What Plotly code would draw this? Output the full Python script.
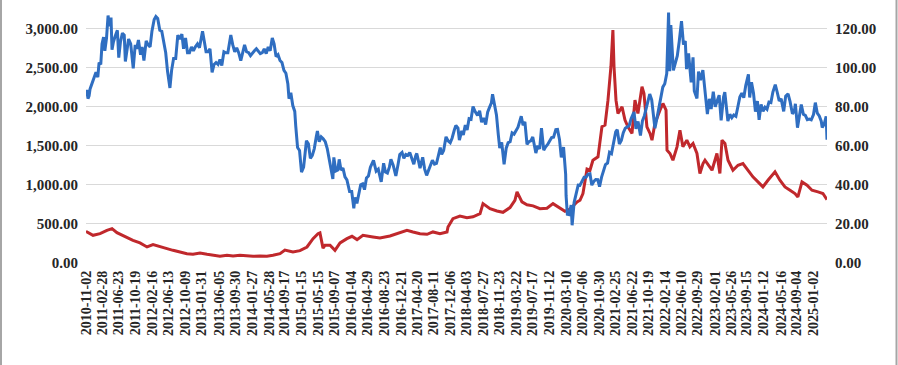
import plotly.graph_objects as go

# ---------------- data ----------------
tick_labels = [
    "2010-11-02", "2011-02-28", "2011-06-23", "2011-10-19", "2012-02-16", "2012-06-13",
    "2012-10-09", "2013-01-31", "2013-06-05", "2013-09-30", "2014-01-27", "2014-05-28",
    "2014-09-17", "2015-01-15", "2015-05-15", "2015-09-07", "2016-01-04", "2016-04-29",
    "2016-08-23", "2016-12-21", "2017-04-20", "2017-08-11", "2017-12-06", "2018-04-03",
    "2018-07-27", "2018-11-23", "2019-03-22", "2019-07-17", "2019-11-12", "2020-03-10",
    "2020-07-06", "2020-10-30", "2021-02-25", "2021-06-22", "2021-10-19", "2022-02-14",
    "2022-06-10", "2022-09-29", "2023-02-01", "2023-05-26", "2023-09-15", "2024-01-12",
    "2024-05-16", "2024-09-04", "2025-01-02",
]

left_ticks = [0, 500, 1000, 1500, 2000, 2500, 3000]
right_ticks = [0, 20, 40, 60, 80, 100, 120]

# red series (left axis)
red_dates = [
    "2010-11-02", "2010-11-09", "2010-12-22", "2011-02-10", "2011-03-31", "2011-05-06", "2011-06-10",
    "2011-07-16", "2011-08-21", "2011-10-02", "2011-11-21", "2012-01-10", "2012-02-22", "2012-04-11",
    "2012-05-31", "2012-07-13", "2012-09-01", "2012-10-20", "2012-12-02", "2013-01-21", "2013-03-12",
    "2013-04-23", "2013-06-12", "2013-08-01", "2013-09-13", "2013-11-01", "2013-12-21", "2014-02-02",
    "2014-03-24", "2014-05-12", "2014-06-24", "2014-08-13", "2014-09-17", "2014-11-13", "2015-01-02",
    "2015-02-21", "2015-04-05", "2015-05-10", "2015-05-24", "2015-06-15", "2015-06-29", "2015-08-04",
    "2015-09-08", "2015-10-14", "2015-12-02", "2016-01-07", "2016-02-12", "2016-03-25", "2016-06-04",
    "2016-07-24", "2016-10-03", "2016-12-13", "2017-02-01", "2017-03-16", "2017-05-05", "2017-06-24",
    "2017-08-05", "2017-09-24", "2017-11-13", "2017-11-20", "2017-12-25", "2018-02-13", "2018-04-04",
    "2018-05-17", "2018-07-06", "2018-07-27", "2018-09-15", "2018-11-03", "2018-12-16", "2019-02-04",
    "2019-03-11", "2019-03-26", "2019-04-30", "2019-06-05", "2019-07-18", "2019-09-05", "2019-10-25",
    "2019-12-07", "2020-01-26", "2020-03-01", "2020-04-06", "2020-05-26", "2020-06-16", "2020-07-07",
    "2020-08-05", "2020-08-26", "2020-09-16", "2020-10-22", "2020-11-19", "2020-12-11", "2021-01-01",
    "2021-01-22", "2021-02-05", "2021-02-13", "2021-02-27", "2021-03-13", "2021-04-11", "2021-05-02",
    "2021-05-23", "2021-06-21", "2021-07-12", "2021-08-02", "2021-08-31", "2021-09-14", "2021-10-05",
    "2021-10-27", "2021-11-10", "2021-12-01", "2022-01-06", "2022-01-27", "2022-02-18", "2022-02-25",
    "2022-03-18", "2022-04-08", "2022-05-07", "2022-05-28", "2022-06-18", "2022-07-16", "2022-08-07",
    "2022-08-29", "2022-09-26", "2022-10-17", "2022-11-08", "2022-11-22", "2023-01-11", "2023-02-15",
    "2023-03-08", "2023-03-23", "2023-04-13", "2023-05-05", "2023-06-09", "2023-07-15", "2023-08-19",
    "2023-09-24", "2023-10-29", "2023-12-04", "2024-01-08", "2024-02-13", "2024-04-03", "2024-05-08",
    "2024-06-13", "2024-07-19", "2024-08-23", "2024-09-13", "2024-10-12", "2024-11-17", "2024-12-22",
    "2025-02-03", "2025-03-10", "2025-04-08",
]
red_values = [
    390, 397, 354, 375, 418, 440, 388,
    354, 324, 290, 256, 205, 235, 205,
    183, 162, 141, 119, 111, 128, 111,
    98, 85, 98, 90, 98, 90, 85,
    90, 85, 98, 119, 165, 141, 158,
    205, 311, 375, 385, 190, 226, 226,
    162, 256, 311, 341, 299, 354, 333,
    320, 346, 388, 418, 397, 375, 367,
    397, 375, 397, 461, 567, 600, 580,
    590, 631, 759, 695, 665, 648, 708,
    802, 909, 781, 745, 730, 695, 700,
    759, 695, 660, 690, 781, 802, 887,
    1200, 1186, 1314, 1357, 1741, 1762, 2082,
    2509, 2978, 2509, 2082, 1911, 1997, 1826,
    1741, 1656, 2082, 1911, 2253, 2167, 1741,
    1656, 1570, 1784, 1954, 2039, 1954, 1442,
    1400, 1314, 1485, 1698, 1485, 1570, 1485,
    1528, 1400, 1144, 1271, 1314, 1186, 1400,
    1144, 1570, 1528, 1314, 1186, 1250, 1271,
    1186, 1101, 1037, 973, 1058, 1165, 1058,
    973, 930, 888, 845, 1037, 994, 930,
    909, 888, 811,
]

# blue series (right axis)
blue_dates = [
    "2010-11-02", "2010-11-09", "2010-11-16", "2010-11-24", "2010-12-01", "2010-12-15", "2010-12-29",
    "2011-01-12", "2011-01-25", "2011-02-03", "2011-02-15", "2011-02-24", "2011-03-07", "2011-03-16",
    "2011-03-28", "2011-04-08", "2011-04-18", "2011-04-29", "2011-05-06", "2011-05-16", "2011-05-31",
    "2011-06-13", "2011-06-23", "2011-07-05", "2011-07-19", "2011-08-01", "2011-08-09", "2011-08-22",
    "2011-09-01", "2011-09-16", "2011-10-04", "2011-10-18", "2011-10-28", "2011-11-10", "2011-11-25",
    "2011-12-06", "2011-12-19", "2012-01-04", "2012-01-18", "2012-02-01", "2012-02-14", "2012-03-01",
    "2012-03-13", "2012-03-26", "2012-04-10", "2012-04-24", "2012-05-08", "2012-05-22", "2012-06-04",
    "2012-06-21", "2012-07-03", "2012-07-17", "2012-08-01", "2012-08-16", "2012-08-31", "2012-09-14",
    "2012-09-26", "2012-10-10", "2012-10-24", "2012-11-07", "2012-11-21", "2012-12-05", "2012-12-19",
    "2013-01-03", "2013-01-17", "2013-01-31", "2013-02-08", "2013-02-20", "2013-03-05", "2013-03-19",
    "2013-04-02", "2013-04-17", "2013-05-01", "2013-05-15", "2013-05-29", "2013-06-12", "2013-06-25",
    "2013-07-10", "2013-07-24", "2013-08-07", "2013-08-28", "2013-09-11", "2013-09-25", "2013-10-09",
    "2013-10-23", "2013-11-07", "2013-11-20", "2013-12-04", "2013-12-18", "2014-01-02", "2014-01-15",
    "2014-01-29", "2014-02-12", "2014-02-26", "2014-03-12", "2014-03-26", "2014-04-09", "2014-04-23",
    "2014-05-07", "2014-05-21", "2014-06-04", "2014-06-19", "2014-07-02", "2014-07-16", "2014-07-30",
    "2014-08-13", "2014-08-27", "2014-09-10", "2014-09-24", "2014-10-08", "2014-10-16", "2014-10-29",
    "2014-11-12", "2014-11-26", "2014-12-03", "2014-12-16", "2014-12-30", "2015-01-13", "2015-01-28",
    "2015-02-09", "2015-02-17", "2015-03-03", "2015-03-17", "2015-03-31", "2015-04-14", "2015-04-28",
    "2015-05-06", "2015-05-19", "2015-06-02", "2015-06-16", "2015-07-01", "2015-07-15", "2015-07-29",
    "2015-08-12", "2015-08-24", "2015-08-31", "2015-09-14", "2015-09-28", "2015-10-08", "2015-10-21",
    "2015-11-04", "2015-11-18", "2015-12-02", "2015-12-21", "2016-01-05", "2016-01-20", "2016-01-28",
    "2016-02-11", "2016-02-25", "2016-03-09", "2016-03-23", "2016-04-05", "2016-04-19", "2016-05-03",
    "2016-05-17", "2016-06-08", "2016-06-27", "2016-07-12", "2016-08-02", "2016-08-19", "2016-09-01",
    "2016-09-15", "2016-09-29", "2016-10-10", "2016-10-26", "2016-11-14", "2016-11-30", "2016-12-12",
    "2016-12-28", "2017-01-10", "2017-01-24", "2017-02-07", "2017-02-21", "2017-03-08", "2017-03-22",
    "2017-04-05", "2017-04-12", "2017-04-26", "2017-05-05", "2017-05-24", "2017-06-07", "2017-06-21",
    "2017-07-05", "2017-07-19", "2017-08-01", "2017-08-16", "2017-08-30", "2017-09-13", "2017-09-26",
    "2017-10-06", "2017-10-20", "2017-11-06", "2017-11-20", "2017-12-06", "2017-12-19", "2018-01-04",
    "2018-01-15", "2018-01-30", "2018-02-09", "2018-02-26", "2018-03-09", "2018-03-23", "2018-04-05",
    "2018-04-19", "2018-05-03", "2018-05-17", "2018-05-31", "2018-06-18", "2018-07-03", "2018-07-17",
    "2018-07-31", "2018-08-15", "2018-08-29", "2018-09-12", "2018-09-25", "2018-10-03", "2018-10-17",
    "2018-10-31", "2018-11-13", "2018-11-23", "2018-12-07", "2018-12-24", "2019-01-08", "2019-01-22",
    "2019-02-05", "2019-02-19", "2019-03-05", "2019-03-19", "2019-04-02", "2019-04-25", "2019-05-08",
    "2019-05-21", "2019-06-05", "2019-06-19", "2019-07-02", "2019-07-16", "2019-08-07", "2019-08-20",
    "2019-09-03", "2019-09-16", "2019-10-02", "2019-10-16", "2019-10-30", "2019-11-13", "2019-11-27",
    "2019-12-11", "2019-12-27", "2020-01-08", "2020-01-22", "2020-02-04", "2020-02-20", "2020-03-06",
    "2020-03-09", "2020-03-18", "2020-04-01", "2020-04-14", "2020-04-21", "2020-05-05", "2020-05-19",
    "2020-06-03", "2020-06-15", "2020-07-01", "2020-07-15", "2020-07-29", "2020-08-12", "2020-08-26",
    "2020-09-08", "2020-09-22", "2020-10-06", "2020-10-20", "2020-11-02", "2020-11-16", "2020-11-30",
    "2020-12-14", "2020-12-29", "2021-01-12", "2021-01-26", "2021-02-09", "2021-02-25", "2021-03-08",
    "2021-03-23", "2021-04-06", "2021-04-20", "2021-05-04", "2021-05-18", "2021-06-01", "2021-06-15",
    "2021-07-05", "2021-07-19", "2021-08-03", "2021-08-20", "2021-09-03", "2021-09-17", "2021-10-01",
    "2021-10-25", "2021-11-08", "2021-11-26", "2021-12-01", "2021-12-15", "2021-12-29", "2022-01-12",
    "2022-01-26", "2022-02-09", "2022-02-23", "2022-03-02", "2022-03-08", "2022-03-16", "2022-03-24",
    "2022-04-11", "2022-04-25", "2022-05-09", "2022-05-23", "2022-06-08", "2022-06-22", "2022-07-05",
    "2022-07-14", "2022-07-28", "2022-08-16", "2022-08-29", "2022-09-07", "2022-09-26", "2022-10-07",
    "2022-10-21", "2022-11-07", "2022-11-21", "2022-12-09", "2022-12-23", "2023-01-05", "2023-01-20",
    "2023-02-03", "2023-02-17", "2023-03-03", "2023-03-17", "2023-04-03", "2023-04-12", "2023-05-04",
    "2023-05-18", "2023-06-01", "2023-06-15", "2023-06-30", "2023-07-14", "2023-07-28", "2023-08-11",
    "2023-08-25", "2023-09-08", "2023-09-27", "2023-10-06", "2023-10-19", "2023-11-02", "2023-11-16",
    "2023-11-30", "2023-12-12", "2023-12-26", "2024-01-09", "2024-01-23", "2024-02-06", "2024-02-20",
    "2024-03-05", "2024-03-19", "2024-04-05", "2024-04-19", "2024-05-03", "2024-05-17", "2024-06-04",
    "2024-06-18", "2024-07-05", "2024-07-19", "2024-08-05", "2024-08-19", "2024-08-26", "2024-09-10",
    "2024-09-24", "2024-10-07", "2024-10-22", "2024-11-05", "2024-11-19", "2024-12-03", "2024-12-17",
    "2025-01-02", "2025-01-15", "2025-01-29", "2025-02-12", "2025-02-26", "2025-03-05", "2025-03-19",
    "2025-04-02", "2025-04-08",
]
blue_values = [
    85.0, 88.5, 84.0, 85.5, 89.0, 91.5, 94.0,
    97.5, 95.0, 102.5, 101.5, 112.0, 115.5, 108.5,
    115.0, 126.5, 121.0, 125.5, 109.0, 113.0, 116.5,
    119.0, 105.0, 113.0, 117.5, 116.5, 103.0, 108.5,
    114.5, 112.0, 99.5, 111.5, 109.5, 114.0, 106.5,
    110.5, 103.5, 113.5, 111.5, 110.5, 118.5, 124.5,
    126.0, 125.0, 119.0, 118.5, 112.5, 107.5, 98.0,
    89.5, 98.5, 104.5, 104.5, 116.5, 114.5, 117.0,
    109.5, 115.0, 107.5, 107.5, 110.5, 108.5, 110.5,
    112.0, 110.0, 115.5, 118.5, 113.5, 108.0, 108.0,
    109.5, 97.5, 101.5, 102.5, 101.5, 104.0, 101.0,
    108.0, 107.5, 107.5, 116.5, 111.5, 108.0, 110.0,
    107.5, 103.5, 108.0, 111.5, 108.0, 107.5, 106.0,
    107.5, 108.5, 109.5, 108.0, 107.0, 107.5, 109.5,
    107.0, 110.5, 108.5, 115.0, 112.0, 105.5, 106.5,
    103.5, 102.5, 98.5, 97.0, 91.5, 84.0, 87.0,
    80.5, 77.5, 70.0, 59.0, 57.5, 46.5, 49.0,
    58.5, 62.5, 61.0, 53.5, 55.0, 58.5, 64.5,
    67.5, 62.0, 64.5, 63.5, 62.0, 58.5, 53.5,
    49.0, 43.0, 54.0, 47.0, 47.5, 53.0, 47.5,
    48.5, 44.0, 42.5, 36.5, 36.5, 28.0, 33.5,
    30.5, 35.0, 40.0, 40.5, 37.5, 43.5, 44.5,
    49.0, 52.5, 47.0, 48.0, 41.5, 51.0, 46.5,
    46.0, 49.0, 53.0, 50.0, 44.5, 50.5, 55.5,
    56.5, 53.5, 55.5, 55.0, 56.5, 53.0, 50.5,
    55.0, 56.0, 51.5, 48.5, 54.0, 48.0, 44.8,
    47.5, 49.5, 52.5, 50.5, 50.9, 55.0, 59.0,
    55.5, 57.5, 64.5, 62.5, 61.5, 63.8, 68.0,
    70.3, 69.0, 62.8, 67.5, 65.5, 70.5, 68.0,
    73.8, 73.5, 80.0, 77.5, 75.5, 77.8, 72.0,
    74.2, 70.8, 77.1, 79.7, 81.9, 86.3, 80.0,
    75.5, 65.5, 58.8, 61.7, 50.5, 58.7, 61.5,
    62.0, 66.5, 65.9, 68.0, 69.4, 75.0, 70.4,
    72.2, 60.6, 62.0, 62.4, 64.4, 56.2, 60.0,
    58.3, 69.0, 57.7, 59.4, 60.6, 62.4, 64.1,
    64.3, 68.2, 68.3, 63.2, 54.0, 59.3, 45.3,
    34.4, 24.9, 24.7, 29.6, 19.3, 30.9, 34.7,
    39.8, 39.7, 42.0, 43.8, 43.8, 45.4, 45.6,
    39.8, 41.7, 42.7, 42.6, 39.0, 43.8, 47.6,
    50.3, 51.1, 56.6, 55.9, 61.1, 67.0, 68.2,
    60.8, 62.7, 66.6, 68.9, 69.5, 70.3, 73.9,
    77.2, 68.6, 72.4, 65.2, 72.6, 75.3, 79.3,
    86.4, 83.4, 72.7, 68.9, 73.9, 79.2, 84.7,
    89.9, 91.6, 96.8, 112.9, 128.0, 98.0, 121.6,
    98.5, 102.3, 105.9, 113.4, 123.6, 111.7, 113.5,
    99.1, 107.1, 92.3, 105.1, 88.0, 84.1, 97.9,
    93.5, 98.6, 87.5, 76.1, 83.9, 78.7, 87.6,
    79.9, 83.0, 85.8, 72.9, 84.9, 87.3, 72.5,
    76.0, 74.3, 75.7, 75.0, 79.9, 84.9, 86.8,
    84.5, 90.7, 96.5, 84.6, 92.4, 86.9, 77.4,
    82.8, 73.2, 81.1, 77.6, 79.6, 78.6, 82.3,
    82.0, 87.4, 91.2, 87.3, 82.9, 83.9, 77.5,
    85.3, 86.5, 82.6, 76.3, 77.7, 81.4, 69.2,
    75.2, 81.0, 76.0, 75.5, 73.3, 73.6, 73.2,
    75.9, 82.0, 76.6, 75.2, 72.5, 69.3, 71.0,
    74.9, 63.0,
]

# ---------------- styling ----------------
BLUE = "#2F6EC1"
RED = "#C0282C"
GRID = "#D9D9D9"
TXT = "#262626"
FONT = "Liberation Serif"

W, H = 898, 365
ML, MR, MT, MB = 86, 71, 5, 102

fig = go.Figure()
fig.add_trace(go.Scatter(
    x=red_dates, y=red_values, mode="lines", yaxis="y",
    line=dict(color=RED, width=3), name="red", hoverinfo="skip",
))
fig.add_trace(go.Scatter(
    x=blue_dates, y=blue_values, mode="lines", yaxis="y2",
    line=dict(color=BLUE, width=3), name="blue", hoverinfo="skip",
))

pw = W - ML - MR
ph = H - MT - MB
shapes = [
    dict(type="line", xref="paper", yref="paper",
         x0=(1 - ML) / pw, x1=(1 - ML) / pw, y0=-MB / ph, y1=1 + MT / ph,
         line=dict(color="#A6A6A6", width=2)),
    dict(type="line", xref="paper", yref="paper",
         x0=(W - 1.5 - ML) / pw, x1=(W - 1.5 - ML) / pw, y0=-MB / ph, y1=1 + MT / ph,
         line=dict(color="#A6A6A6", width=2)),
]

fig.update_layout(
    width=W, height=H,
    margin=dict(l=ML, r=MR, t=MT, b=MB, pad=0),
    paper_bgcolor="white", plot_bgcolor="white",
    showlegend=False,
    shapes=shapes,
    xaxis=dict(
        type="date",
        range=["2010-11-02", "2025-04-08"],
        tickmode="array", tickvals=tick_labels, ticktext=tick_labels,
        tickangle=-90, showgrid=False, zeroline=False, showline=False,
        ticks="", ticklabelstandoff=4,
        tickfont=dict(family=FONT, size=14, color=TXT, weight="bold"),
    ),
    yaxis=dict(
        range=[0, 3298], tickmode="array", tickvals=left_ticks,
        tickformat=",.2f", showgrid=True, gridcolor=GRID, gridwidth=1,
        zeroline=False, showline=False, ticks="", ticklabelstandoff=7,
        tickfont=dict(family=FONT, size=15, color=TXT, weight="bold"),
    ),
    yaxis2=dict(
        range=[0, 131.9], overlaying="y", side="right",
        tickmode="array", tickvals=right_ticks, tickformat=".2f",
        showgrid=False, zeroline=False, showline=False, ticks="",
        ticklabelstandoff=7,
        tickfont=dict(family=FONT, size=15, color=TXT, weight="bold"),
    ),
)

fig.write_html(
    "out.html",
    config={"displayModeBar": False},
    post_script="document.body.style.margin='0';document.body.style.overflow='hidden';",
)
